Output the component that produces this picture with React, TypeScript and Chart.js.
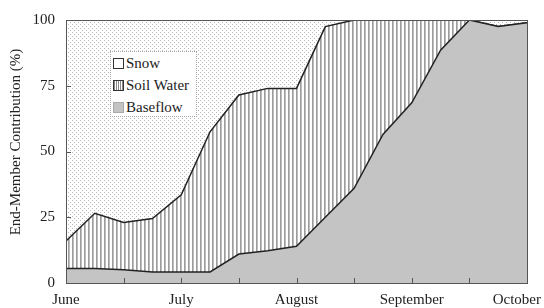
import React, { useEffect, useRef } from "react";
import { Chart, registerables } from "chart.js";
Chart.register(...registerables);

// x positions in half-month steps (0 = June 1, 2 = July 1, ... 8 = October 1)
const xPositions = [0, 0.5, 1, 1.5, 2, 2.5, 3, 3.5, 4, 4.5, 5, 5.5, 6, 6.5, 7, 7.5, 8];
const baseflow = [5.5, 5.5, 5.0, 4.2, 4.2, 4.2, 11, 12.3, 14, 25, 36, 56.5, 68.5, 88.5, 100, 97.5, 99];
const soilWater = [10.5, 21, 18, 20.3, 29.3, 53.3, 60.5, 61.7, 60, 72.5, 64, 43.5, 31.5, 11.5, 0, 0, 0];
const snow = [84, 73.5, 77, 75.5, 66.5, 42.5, 28.5, 26, 26, 2.5, 0, 0, 0, 0, 0, 2.5, 1];

const monthLabels = ["June", "July", "August", "September", "October"];
const monthTicks = [0, 2, 4, 6, 8];
const minorTicks = [1, 2, 3, 4, 5, 6, 7];
const yTicks = [25, 50, 75];
const yTitle = "End-Member Contribution (%)";

const FONT = "'Liberation Serif', 'Times New Roman', serif";

function makeDotPattern(): CanvasPattern | string {
  const c = document.createElement("canvas");
  c.width = 4;
  c.height = 4;
  const g = c.getContext("2d");
  if (!g) return "#eee";
  g.fillStyle = "#ffffff";
  g.fillRect(0, 0, 4, 4);
  g.fillStyle = "#b8b8b8";
  g.fillRect(0, 0, 1, 1);
  g.fillRect(2, 2, 1, 1);
  return g.createPattern(c, "repeat") as CanvasPattern;
}

function makeStripePattern(): CanvasPattern | string {
  const c = document.createElement("canvas");
  c.width = 4;
  c.height = 4;
  const g = c.getContext("2d");
  if (!g) return "#ccc";
  g.fillStyle = "#ffffff";
  g.fillRect(0, 0, 4, 4);
  g.fillStyle = "#9c9c9c";
  g.fillRect(0, 0, 1, 4);
  g.fillStyle = "#bdbdbd";
  g.fillRect(1, 0, 1, 4);
  return g.createPattern(c, "repeat") as CanvasPattern;
}

const decorPlugin = {
  id: "decor",
  afterDatasetsDraw(chart: any) {
    const { ctx, chartArea } = chart;
    const { left, right, top, bottom } = chartArea;
    const xs = chart.scales.x;
    const ys = chart.scales.y;
    ctx.save();
    ctx.strokeStyle = "#555";
    ctx.lineWidth = 1;
    ctx.strokeRect(Math.round(left) + 0.5, Math.round(top) + 0.5, Math.round(right - left), Math.round(bottom - top));
    ctx.beginPath();
    for (const v of minorTicks) {
      const px = Math.round(xs.getPixelForValue(v)) + 0.5;
      ctx.moveTo(px, bottom);
      ctx.lineTo(px, bottom - 5);
    }
    for (const v of yTicks) {
      const py = Math.round(ys.getPixelForValue(v)) + 0.5;
      ctx.moveTo(left, py);
      ctx.lineTo(left + 5, py);
    }
    ctx.stroke();
    ctx.restore();
  },
  afterDraw(chart: any) {
    const { ctx, chartArea } = chart;
    const xs = chart.scales.x;
    ctx.save();
    ctx.fillStyle = "#222";
    ctx.font = `15px ${FONT}`;
    ctx.textBaseline = "alphabetic";
    ctx.textAlign = "center";
    monthLabels.forEach((lab, i) => {
      const w = ctx.measureText(lab).width;
      let px = xs.getPixelForValue(monthTicks[i]);
      px = Math.min(px, chart.width - 3 - w / 2);
      ctx.fillText(lab, px, chartArea.bottom + 21);
    });
    // y axis title
    ctx.translate(16, 142);
    ctx.rotate(-Math.PI / 2);
    ctx.textBaseline = "middle";
    ctx.fillText(yTitle, 0, 0);
    ctx.restore();
  },
};

export default function App() {
  const ref = useRef<HTMLCanvasElement | null>(null);

  useEffect(() => {
    if (!ref.current) return;
    const dots = makeDotPattern();
    const stripes = makeStripePattern();
    const toPts = (arr: number[]) => arr.map((y, i) => ({ x: xPositions[i], y }));
    const chart = new Chart(ref.current, {
      type: "line",
      data: {
        datasets: [
          {
            label: "Baseflow",
            data: toPts(baseflow),
            fill: "origin",
            backgroundColor: "#c4c4c4",
            borderColor: "#222",
            borderWidth: 1.5,
            pointRadius: 0,
            tension: 0,
          },
          {
            label: "Soil Water",
            data: toPts(soilWater),
            fill: "-1",
            backgroundColor: stripes as any,
            borderColor: "#222",
            borderWidth: 1.5,
            pointRadius: 0,
            tension: 0,
          },
          {
            label: "Snow",
            data: toPts(snow),
            fill: "-1",
            backgroundColor: dots as any,
            borderColor: "rgba(0,0,0,0)",
            borderWidth: 0,
            pointRadius: 0,
            tension: 0,
          },
        ],
      },
      options: {
        animation: false,
        responsive: true,
        maintainAspectRatio: false,
        layout: { padding: { left: 0, right: 17, top: 16, bottom: 0 } },
        plugins: { legend: { display: false }, tooltip: { enabled: false } },
        scales: {
          x: {
            type: "linear",
            min: 0,
            max: 8,
            grid: { display: false, drawTicks: false },
            border: { display: false },
            ticks: { display: false },
            afterFit: (s: any) => {
              s.height = 25;
            },
          },
          y: {
            stacked: true,
            min: 0,
            max: 100,
            grid: { display: false, drawTicks: false },
            border: { display: false },
            ticks: {
              stepSize: 25,
              padding: 11,
              color: "#222",
              font: { family: FONT, size: 15 },
            },
            afterFit: (s: any) => {
              s.width = 66;
            },
          },
        },
      },
      plugins: [decorPlugin],
    });
    return () => chart.destroy();
  }, []);

  const sw: React.CSSProperties = {
    display: "inline-block",
    width: 9,
    height: 9,
    boxSizing: "content-box",
    marginRight: 2,
    verticalAlign: "middle",
    position: "relative",
    top: -1,
  };
  const row: React.CSSProperties = {
    height: 22,
    lineHeight: "22px",
    whiteSpace: "nowrap",
  };

  return (
    <div style={{ position: "fixed", left: 0, top: 0, width: 544, height: 308, background: "#fff" }}>
      <canvas ref={ref} />
      <div
        style={{
          position: "absolute",
          left: 110,
          top: 51,
          width: 87,
          height: 66,
          boxSizing: "border-box",
          border: "1px dotted #aaa",
          background: "#fff",
          fontFamily: FONT,
          fontSize: 15,
          color: "#222",
          paddingLeft: 2,
          paddingTop: 0,
        }}
      >
        <div style={row}>
          <span style={{ ...sw, background: "#fff", border: "1px solid #333" }} />
          Snow
        </div>
        <div style={row}>
          <span
            style={{
              ...sw,
              border: "1px solid #333",
              background: "repeating-linear-gradient(90deg, #888 0 1px, #fff 1px 2px)",
            }}
          />
          Soil Water
        </div>
        <div style={row}>
          <span style={{ ...sw, background: "#c4c4c4", border: "1px solid #aaa" }} />
          Baseflow
        </div>
      </div>
    </div>
  );
}
